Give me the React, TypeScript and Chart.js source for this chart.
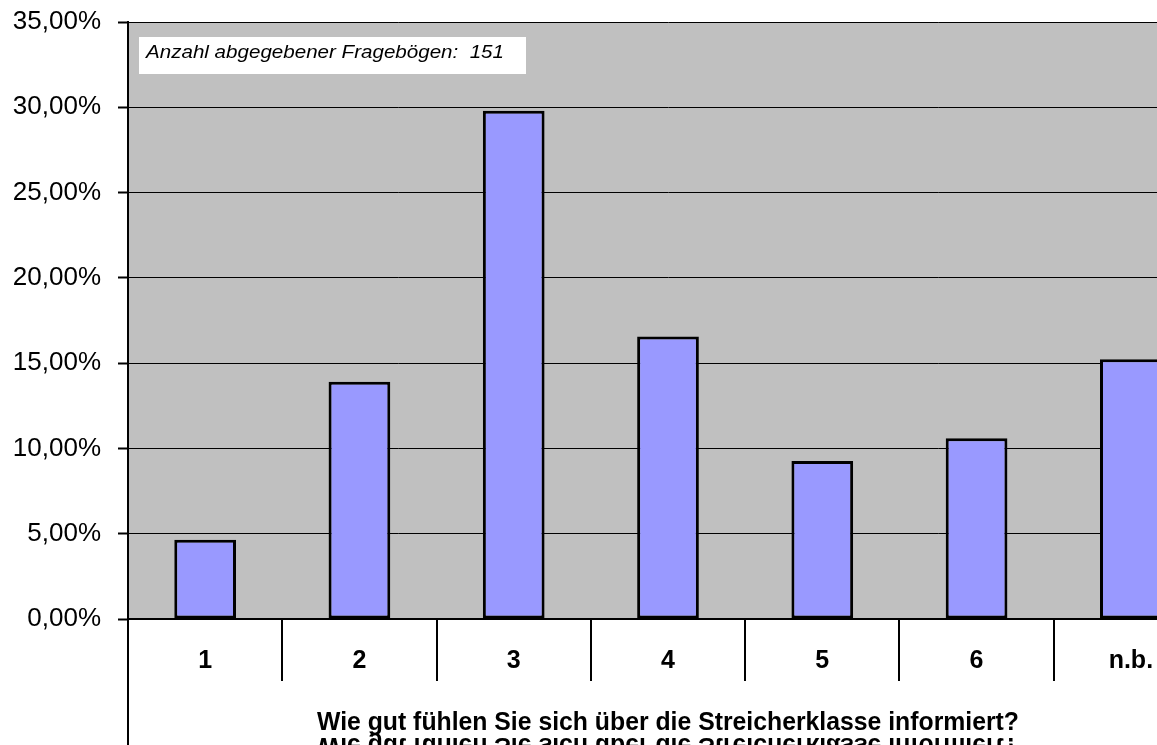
import React, { useEffect, useRef } from "react";
import { Chart, registerables } from "chart.js";

Chart.register(...registerables);

const categories = ["1", "2", "3", "4", "5", "6", "n.b."];
const shares = [4.64, 13.91, 29.8, 16.56, 9.27, 10.6, 15.23];
const yTicks = [0, 5, 10, 15, 20, 25, 30, 35];
const axisTitle = "Wie gut fühlen Sie sich über die Streicherklasse informiert?";
const note = "Anzahl abgegebener Fragebögen:  151";

const FONT = '"Liberation Sans", Arial, sans-serif';

function fmt(v: number) {
  return v.toFixed(2).replace(".", ",") + "%";
}

function drawFitted(
  ctx: CanvasRenderingContext2D,
  text: string,
  x: number,
  y: number,
  font: string,
  targetWidth: number | null,
  align: "left" | "center" | "right",
  flip = false
) {
  ctx.save();
  ctx.font = font;
  ctx.textBaseline = "alphabetic";
  ctx.textAlign = "left";
  const natural = ctx.measureText(text).width;
  const sx = targetWidth ? targetWidth / natural : 1;
  const w = natural * sx;
  const left = align === "right" ? x - w : align === "center" ? x - w / 2 : x;
  ctx.translate(left, y);
  ctx.scale(sx, flip ? -1 : 1);
  ctx.fillStyle = "#000";
  ctx.fillText(text, 0, 0);
  ctx.restore();
}

const decor = {
  id: "decor",
  beforeDraw(chart: any) {
    const { ctx, chartArea, width, height } = chart;
    ctx.save();
    ctx.fillStyle = "#fff";
    ctx.fillRect(0, 0, width, height);
    ctx.fillStyle = "#C0C0C0";
    ctx.fillRect(chartArea.left, chartArea.top, width - chartArea.left, chartArea.bottom - chartArea.top);
    ctx.restore();
  },
  afterDraw(chart: any) {
    const { ctx, chartArea, height } = chart;
    const xs = chart.scales.x;
    const ys = chart.scales.y;

    // left axis extension through the category area
    ctx.save();
    ctx.strokeStyle = "#000";
    ctx.lineWidth = 2;
    ctx.beginPath();
    ctx.moveTo(chartArea.left, chartArea.top);
    ctx.lineTo(chartArea.left, height);
    ctx.stroke();
    ctx.restore();

    // y tick labels
    ys.ticks.forEach((t: any, i: number) => {
      const y = ys.getPixelForTick(i);
      ctx.save();
      ctx.font = `26px ${FONT}`;
      ctx.fillStyle = "#000";
      ctx.textAlign = "right";
      ctx.textBaseline = "middle";
      ctx.fillText(fmt(t.value), 101, y);
      ctx.restore();
    });

    // category labels
    chart.data.labels.forEach((lab: string, i: number) => {
      const x = xs.getPixelForValue(i);
      ctx.save();
      ctx.font = `bold 25px ${FONT}`;
      ctx.fillStyle = "#000";
      ctx.textAlign = "center";
      ctx.textBaseline = "alphabetic";
      ctx.fillText(lab, x, chartArea.bottom + 49);
      ctx.restore();
    });

    // axis title and its mirrored echo
    const cx = (chartArea.left + chartArea.right) / 2;
    drawFitted(ctx, axisTitle, cx, chartArea.bottom + 111, `bold 25px ${FONT}`, 702, "center");
    drawFitted(ctx, axisTitle, cx, chartArea.bottom + 119, `bold 25px ${FONT}`, 702, "center", true);

    // annotation box
    ctx.save();
    ctx.fillStyle = "#fff";
    ctx.fillRect(chartArea.left + 11, chartArea.top + 15, 387, 37);
    ctx.restore();
    drawFitted(ctx, note, chartArea.left + 18, chartArea.top + 36, `italic 18px ${FONT}`, 358, "left");
  },
};

export default function App() {
  const ref = useRef<HTMLCanvasElement | null>(null);
  useEffect(() => {
    if (!ref.current) return;
    const chart = new Chart(ref.current, {
      type: "bar",
      data: {
        labels: categories,
        datasets: [
          {
            data: shares,
            backgroundColor: "#9999FF",
            borderColor: "#000",
            borderWidth: 3,
            borderSkipped: false,
            barPercentage: 0.4,
            categoryPercentage: 1,
          },
        ],
      },
      options: {
        responsive: false,
        animation: false,
        devicePixelRatio: 1,
        layout: { padding: { left: 118, right: 22, top: 22, bottom: 64 } },
        plugins: { legend: { display: false }, tooltip: { enabled: false } },
        scales: {
          x: {
            grid: {
              display: true,
              drawOnChartArea: false,
              drawTicks: true,
              tickLength: 62,
              color: "#000",
              lineWidth: 2,
              offset: true,
            },
            ticks: { display: false },
            border: { display: true, color: "#000", width: 2 },
          },
          y: {
            min: 0,
            max: 35,
            afterBuildTicks: (scale: any) => {
              scale.ticks = yTicks.map((v) => ({ value: v }));
            },
            grid: { color: "#000", lineWidth: 1, drawTicks: true, tickLength: 10, tickWidth: 2 },
            ticks: { display: false },
            border: { display: true, color: "#000", width: 2 },
          },
        },
      },
      plugins: [decor],
    } as any);
    return () => chart.destroy();
  }, []);

  return (
    <div
      style={{
        position: "fixed",
        left: 0,
        top: 0,
        width: 1157,
        height: 745,
        overflow: "hidden",
        background: "#fff",
      }}
    >
      <canvas ref={ref} width={1230} height={745} style={{ display: "block" }} />
    </div>
  );
}
